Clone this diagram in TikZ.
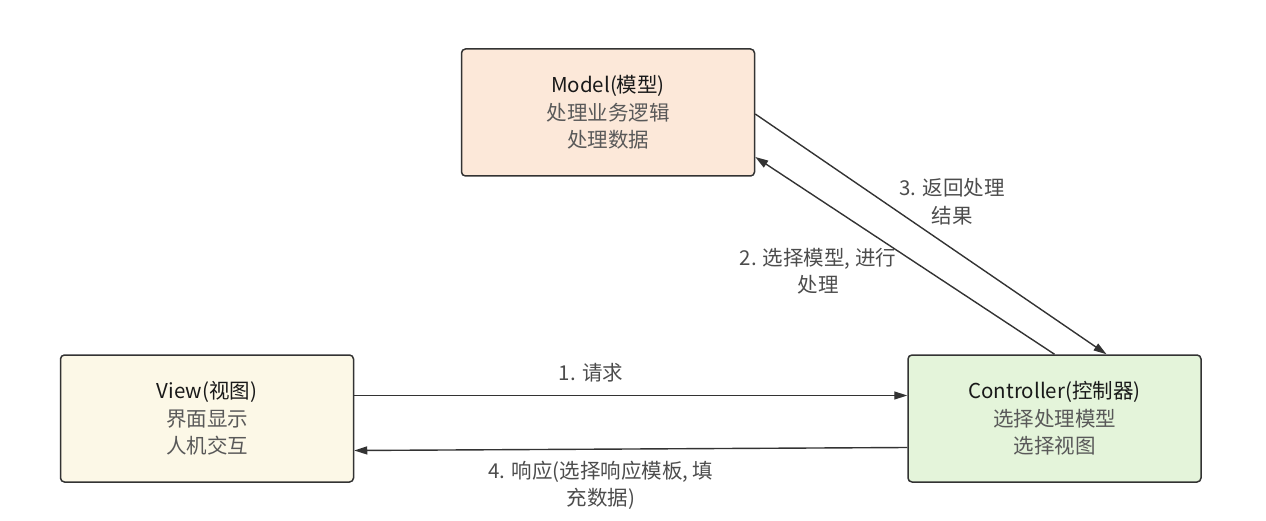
\documentclass[tikz,border=0pt]{standalone}
\usepackage{fontspec}
\setmainfont{Noto Sans CJK SC}
\usetikzlibrary{arrows.meta, positioning}

\definecolor{modelfill}{HTML}{FCE8D9}
\definecolor{viewfill}{HTML}{FCF8E7}
\definecolor{ctrlfill}{HTML}{E4F4DA}
\definecolor{linecol}{HTML}{333333}
\newcommand{\boxtitle}[1]{\textcolor{black!90}{#1}}

\begin{document}
\begin{tikzpicture}[
    % GLOBAL CFG
    x=1pt, y=-1pt,
    font=\fontsize{20.5}{27.5}\selectfont,
    >={Triangle[length=13pt, width=8pt]},
    % Styles
    part/.style={% For the three MVC boxes
        rectangle,
        rounded corners=4pt,
        draw=linecol,
        line width=1.5pt,
        minimum width=293pt,
        minimum height=127pt,
        align=center,
        text=black!65,
        },
    steplabel/.style={% For the step texts beside the arrows
        align=center,
        text=black!70,
        inner sep=1pt,
        },
    Flow/.style={% Arrows between boxes
        ->,
        draw=linecol,
        line width=1.4pt,
        },
    ]

    \useasboundingbox (0,0) rectangle (1266,521);

    % Draw the boxes
    \node [part, fill=modelfill] (model) at (608,112.5) {\boxtitle{Model(模型)}\\处理业务逻辑\\处理数据};
    \node [part, fill=viewfill] (view) at (207,418.5) {\boxtitle{View(视图)}\\界面显示\\人机交互};
    \node [part, fill=ctrlfill] (ctrl) at (1054.5,418.5) {\boxtitle{Controller(控制器)}\\选择处理模型\\选择视图};

    % Draw step labels
    \node [steplabel] (req) at (591,373) {1. 请求};
    \node [steplabel] (sel) at (818,271) {2. 选择模型, 进行\\处理};
    \node [steplabel] (ret) at (952,201.5) {3. 返回处理\\结果};
    \node [steplabel] (resp) at (601,485.5) {4. 响应(选择响应模板, 填\\充数据)};

% Start connecting all.
    \draw [Flow] ([yshift=23pt]view.east) -- ([yshift=23pt]ctrl.west);
    \draw [Flow] (ctrl.north) -- ([yshift=-44.5pt]model.east);
    \draw [Flow] ([yshift=-1.5pt]model.east) -- ([xshift=52pt]ctrl.north);
    \draw [Flow] ([yshift=-29pt]ctrl.west) -- ([yshift=-32pt]view.east);

\end{tikzpicture}
\end{document}
